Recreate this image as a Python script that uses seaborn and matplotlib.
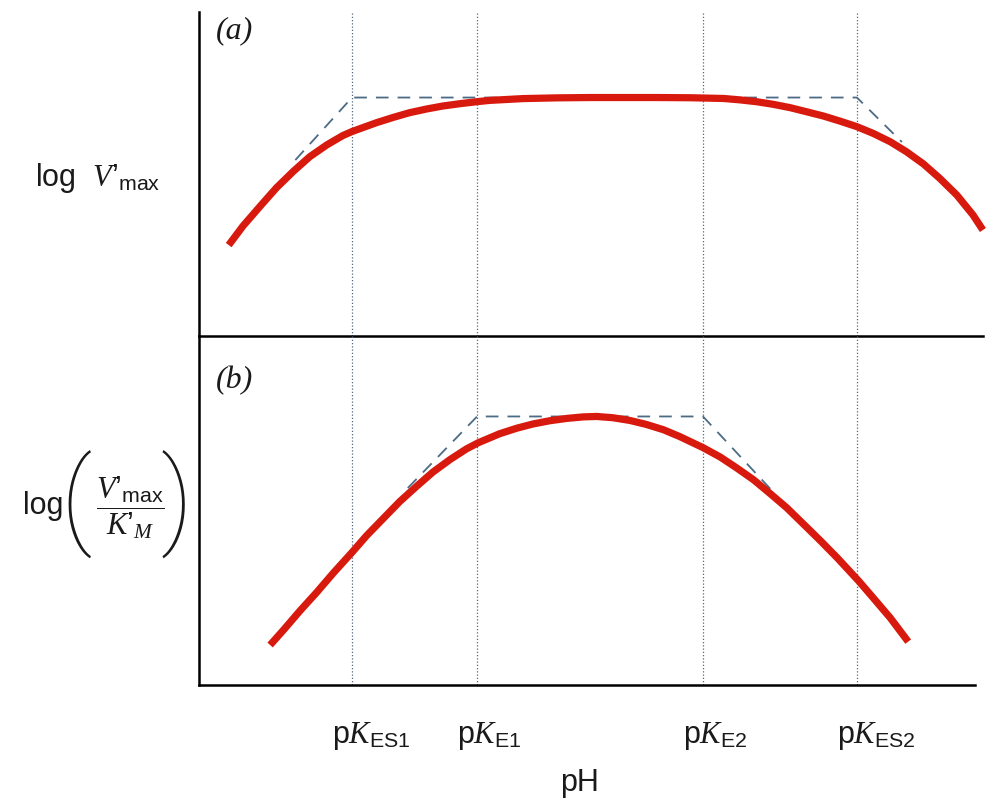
import matplotlib
matplotlib.use("Agg")
import matplotlib.pyplot as plt
import matplotlib.transforms as mtrans
import numpy as np
import pandas as pd
import seaborn as sns

# ---------------- data ----------------
# panel (a): log V'max vs pH
ph_top = [3.33, 3.49, 3.68, 3.86, 4.05, 4.23, 4.42, 4.60, 4.70, 4.97, 5.16, 5.34,
          5.53, 5.71, 5.90, 6.09, 6.23, 6.60, 6.98, 7.34, 7.71, 8.09, 8.46, 8.83,
          9.01, 9.20, 9.38, 9.57, 9.75, 9.94, 10.12, 10.31, 10.49, 10.68, 10.86,
          11.05, 11.23, 11.42, 11.60, 11.71]
logv_top = [-1.392, -1.211, -1.025, -0.852, -0.695, -0.559, -0.447, -0.358, -0.321,
            -0.238, -0.187, -0.143, -0.108, -0.080, -0.058, -0.039, -0.027, -0.010,
            -0.003, 0.0, 0.0, 0.0, -0.002, -0.009, -0.022, -0.040, -0.064, -0.096,
            -0.134, -0.175, -0.222, -0.275, -0.338, -0.417, -0.511, -0.627, -0.762,
            -0.920, -1.108, -1.250]

# panel (b): log(V'max/K'M) vs pH
ph_bot = [3.79, 3.94, 4.12, 4.31, 4.49, 4.70, 4.86, 5.05, 5.23, 5.42, 5.60, 5.79,
          5.97, 6.10, 6.34, 6.53, 6.71, 6.90, 7.09, 7.27, 7.42, 7.60, 7.79, 7.97,
          8.16, 8.34, 8.60, 8.79, 8.97, 9.16, 9.34, 9.53, 9.71, 9.90, 10.09, 10.33,
          10.49, 10.68, 10.88]
logvk_bot = [-2.156, -2.013, -1.835, -1.657, -1.479, -1.282, -1.126, -0.960, -0.803,
             -0.657, -0.524, -0.406, -0.307, -0.249, -0.163, -0.111, -0.071, -0.040,
             -0.018, -0.004, 0.0, -0.012, -0.038, -0.075, -0.125, -0.189, -0.294,
             -0.382, -0.483, -0.596, -0.723, -0.861, -1.010, -1.168, -1.332, -1.552,
             -1.710, -1.899, -2.124]

# dashed asymptotes
asym_top_ph = [4.07, 4.70, 10.31, 10.81]
asym_top_log = [-0.59, 0.0, 0.0, -0.42]
asym_bot_ph = [5.32, 6.09, 8.60, 9.38]
asym_bot_log = [-0.675, 0.0, 0.0, -0.712]

# pK positions and labels
pk_values = [4.70, 6.09, 8.60, 10.31]
pk_labels = [r"p$K_{\mathrm{ES1}}$", r"p$K_{\mathrm{E1}}$",
             r"p$K_{\mathrm{E2}}$", r"p$K_{\mathrm{ES2}}$"]

# ---------------- style ----------------
sns.set_theme(style="white")
plt.rcParams["font.family"] = ["Liberation Sans", "DejaVu Sans"]
plt.rcParams["mathtext.fontset"] = "custom"
plt.rcParams["mathtext.rm"] = "Liberation Sans"
plt.rcParams["mathtext.sf"] = "Liberation Sans"
plt.rcParams["mathtext.it"] = "Liberation Serif:italic"
plt.rcParams["mathtext.bf"] = "Liberation Sans:bold"

RED = "#d81a0e"
DASH = "#4c6b84"
VLINE = "#55667f"
TXT = "#1a1a1a"

W, H = 994, 805
fig = plt.figure(figsize=(W / 100, H / 100), dpi=100)
fig.patch.set_facecolor("white")


def fx(px):
    return px / W


def fy(py):
    return 1 - py / H


ax1 = fig.add_axes([fx(199), fy(336), 784 / W, 324 / H])
ax2 = fig.add_axes([fx(199), fy(685), 776 / W, 349 / H])

df_top = pd.DataFrame({"pH": ph_top, "val": logv_top})
df_bot = pd.DataFrame({"pH": ph_bot, "val": logvk_bot})

for ax in (ax1, ax2):
    ax.patch.set_visible(False)
    for pk in pk_values:
        ax.axvline(pk, color=VLINE, lw=0.9, ls=(0, (1, 1.6)), zorder=1)

ax1.plot(asym_top_ph, asym_top_log, color=DASH, lw=1.3, ls=(0, (7, 5)), zorder=2)
ax2.plot(asym_bot_ph, asym_bot_log, color=DASH, lw=1.3, ls=(0, (7, 5)), zorder=2)

sns.lineplot(data=df_top, x="pH", y="val", ax=ax1, color=RED, lw=5.2,
             sort=False, estimator=None, zorder=3, solid_capstyle="butt",
             solid_joinstyle="round", clip_on=False)
sns.lineplot(data=df_bot, x="pH", y="val", ax=ax2, color=RED, lw=5.2,
             sort=False, estimator=None, zorder=3, solid_capstyle="butt",
             solid_joinstyle="round", clip_on=False)

ax1.set_xlim(3, 3 + 784 / 90)
ax1.set_ylim(-2.250, 0.807)
ax2.set_xlim(3, 3 + 776 / 90)
ax2.set_ylim(-2.533, 0.759)

for ax in (ax1, ax2):
    ax.spines["top"].set_visible(False)
    ax.spines["right"].set_visible(False)
    for s in ("left", "bottom"):
        ax.spines[s].set_color("black")
        ax.spines[s].set_linewidth(1.8)
    ax.set_xlabel("")
    ax.set_ylabel("")
    ax.set_yticks([])

ax1.set_xticks([])
ax2.set_xticks(pk_values)
ax2.set_xticklabels(pk_labels, fontsize=22, ha="left", color=TXT)
ax2.tick_params(axis="x", length=0, pad=25)
shift = mtrans.ScaledTranslation(-20 / 100, 0, fig.dpi_scale_trans)
for lab in ax2.get_xticklabels():
    lab.set_transform(lab.get_transform() + shift)

# panel tags
fig.text(fx(216), fy(31), "(a)", fontsize=23, family="Liberation Serif",
         style="italic", ha="left", va="center", color=TXT)
fig.text(fx(216), fy(381), "(b)", fontsize=23, family="Liberation Serif",
         style="italic", ha="left", va="center", color=TXT)

# y label (a)
fig.text(fx(98), fy(186), r"log  $\mathit{V’}_{\mathrm{max}}$", fontsize=22,
         ha="center", va="baseline", color=TXT)

# y label (b): log ( V'max / K'M )
fig.text(fx(43), fy(514), "log", fontsize=22, ha="center", va="baseline", color=TXT)
fig.text(fx(76), fy(505), "(", fontsize=76, family="Roboto", fontweight="light",
         ha="center", va="center", color=TXT)
fig.text(fx(177), fy(505), ")", fontsize=76, family="Roboto", fontweight="light",
         ha="center", va="center", color=TXT)
fig.text(fx(130), fy(508), r"$\dfrac{\mathit{V’}_{\mathrm{max}}}{\mathit{K’}_{M}}$",
         fontsize=22, ha="center", va="center", color=TXT)

# x label
fig.text(fx(580), fy(783), "pH", fontsize=22, ha="center", va="center", color=TXT)

fig.savefig("out.png", dpi=100, facecolor="white")
